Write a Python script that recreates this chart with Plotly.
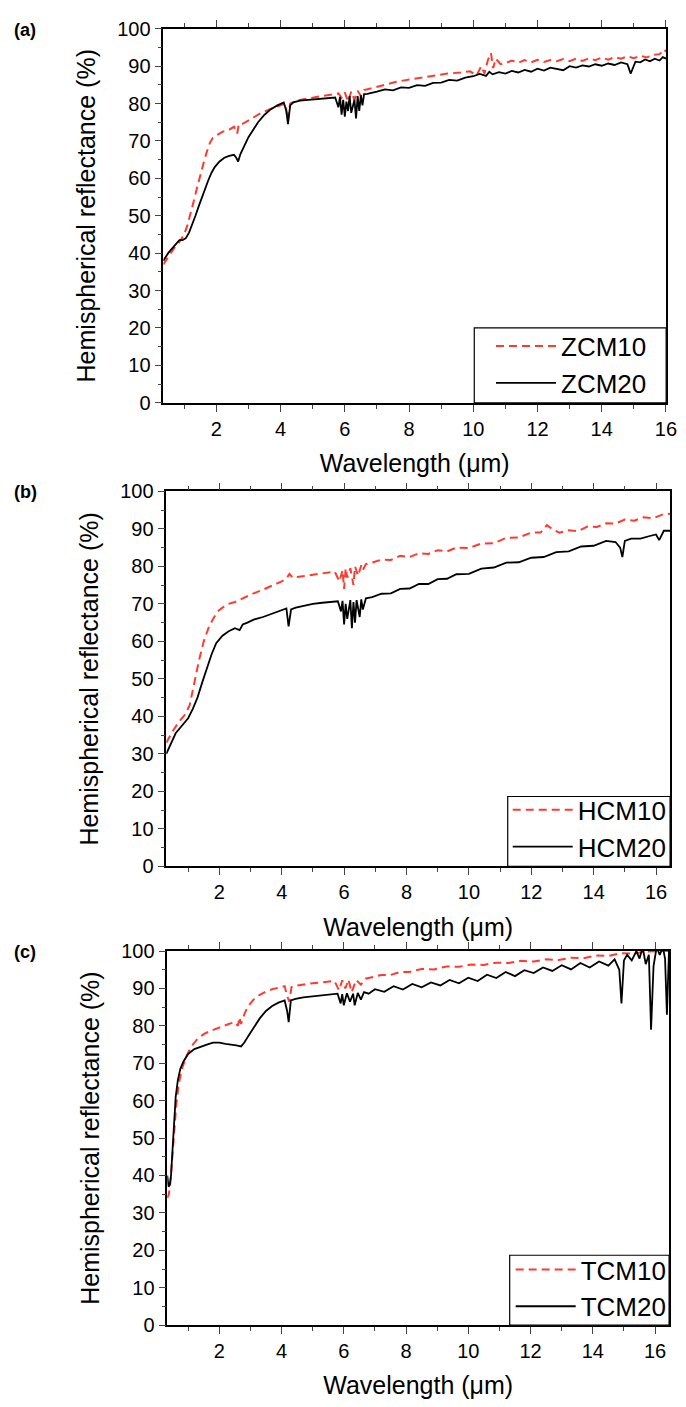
import plotly.graph_objects as go

# ---- panel (a) ----
zcm10_wl = [0.35, 0.5, 0.7, 0.85, 1.0, 1.1, 1.2, 1.3, 1.4, 1.5, 1.6, 1.7, 1.8, 1.9, 2.0, 2.2, 2.4, 2.55,
            2.65, 2.7, 2.8, 3.0, 3.2, 3.4, 3.6, 3.8, 4.0, 4.15, 4.22, 4.3, 4.5, 4.8, 5.0, 5.3, 5.6, 5.8,
            5.9, 6.0, 6.1, 6.2, 6.3, 6.4, 6.5, 6.6, 6.8, 7.0, 7.3, 7.6, 8.0, 8.4, 8.8, 9.2, 9.6, 9.9,
            10.1, 10.25, 10.35, 10.45, 10.55, 10.62, 10.7, 10.85, 11.0, 11.2, 11.4, 11.6, 11.8, 12.0,
            12.2, 12.4, 12.6, 12.8, 13.0, 13.2, 13.4, 13.6, 13.8, 14.0, 14.2, 14.4, 14.6, 14.8, 15.0,
            15.2, 15.4, 15.6, 15.8, 15.95, 16.0]
zcm10_r = [37, 39, 41.5, 43, 45, 47.5, 50.5, 54, 57.5, 61, 64, 67, 69.5, 71, 71.5, 72.5, 73, 73.8,
           72, 74.5, 74.5, 75.5, 76.5, 77.5, 78.2, 79, 79.5, 80, 75.5, 80, 80.8, 81.3, 81.6, 82, 82.4, 82.7,
           81.5, 83, 80.5, 83.2, 81, 83.4, 82, 83.6, 84, 84.5, 85.2, 85.8, 86.4, 87, 87.5, 88, 88.3, 88.6,
           87.5, 90, 88, 91.5, 93.5, 89.5, 92, 90.5, 90.8, 91.5, 90.9, 91.6, 91.0, 91.7,
           91.1, 91.6, 91.3, 91.9, 91.3, 92.0, 91.4, 92.1, 91.6, 92.3, 91.7, 92.4, 92.0, 92.6, 92.1,
           92.8, 92.3, 93.0, 93.2, 94.5, 93.8]

zcm20_wl = [0.35, 0.5, 0.7, 0.85, 0.95, 1.05, 1.15, 1.25, 1.35, 1.45, 1.55, 1.65, 1.75, 1.85, 1.95, 2.1,
            2.25, 2.4, 2.55, 2.62, 2.68, 2.75, 2.85, 3.0, 3.15, 3.3, 3.5, 3.7, 3.9, 4.1, 4.18, 4.23, 4.3,
            4.4, 4.6, 4.9, 5.2, 5.5, 5.7, 5.8, 5.85, 5.9, 5.95, 6.0, 6.05, 6.1, 6.15, 6.2, 6.3, 6.35, 6.4,
            6.45, 6.5, 6.55, 6.6, 6.7, 6.85, 7.0, 7.25, 7.5, 7.75, 8.0, 8.25, 8.5, 8.75, 9.0, 9.25, 9.5,
            9.75, 10.0, 10.2, 10.4, 10.5, 10.6, 10.8, 11.0, 11.2, 11.4, 11.6, 11.8, 12.0, 12.2, 12.4,
            12.6, 12.8, 13.0, 13.2, 13.4, 13.6, 13.8, 14.0, 14.2, 14.4, 14.6, 14.8, 14.9, 14.97, 15.05,
            15.2, 15.35, 15.5, 15.65, 15.8, 15.9, 16.0]
zcm20_r = [38, 40, 42, 43.5, 43.5, 44, 45.5, 47.5, 50, 52.5, 55, 57.5, 59.5, 61.5, 63, 64.5,
           65.5, 66, 66.3, 65.5, 64.5, 66.5, 68.5, 71, 73, 75, 77, 78.5, 79.5, 80.3, 78, 74.5, 79.5,
           80.3, 80.8, 81, 81.3, 81.6, 81.6, 79, 81.8, 77, 81, 76.5, 80.5, 78, 82, 77.5, 81, 76, 82,
           78, 82.2, 79.5, 82.5, 82.6, 83, 83.2, 83.8, 83.5, 84.3, 84.2, 84.9, 84.7, 85.5, 85.6, 86.3, 86.1,
           86.9, 87.3, 87.9, 87.4, 88.5, 87.8, 88.4, 88.0, 88.7, 88.3, 89.0, 88.5, 89.3, 88.8, 89.6,
           89.3, 88.9, 90.0, 89.6, 90.2, 89.9, 90.5, 90.1, 90.7, 90.3, 91.0, 90.5, 88.0, 89.5, 91.2,
           91.0, 91.8, 91.3, 92.0, 91.5, 92.4, 92.0]

# ---- panel (b) ----
hcm10_wl = [0.3, 0.5, 0.7, 0.9, 1.05, 1.2, 1.35, 1.5, 1.65, 1.8, 1.95, 2.1, 2.3, 2.5, 2.7, 2.9, 3.1,
            3.4, 3.7, 4.0, 4.15, 4.25, 4.35, 4.5, 4.8, 5.1, 5.4, 5.7, 5.85, 5.95, 6.0, 6.05, 6.1, 6.2,
            6.3, 6.35, 6.45, 6.55, 6.6, 6.7, 6.9, 7.2, 7.5, 7.8, 8.1, 8.4, 8.7, 9.0, 9.3, 9.6, 10.0,
            10.4, 10.8, 11.2, 11.6, 12.0, 12.3, 12.5, 12.7, 12.9, 13.2, 13.5, 13.8, 14.1, 14.4, 14.7,
            15.0, 15.3, 15.6, 15.9, 16.2, 16.45]
hcm10_r = [33, 36, 38.5, 40.5, 43, 49, 55, 60, 63.5, 66, 68, 69, 70, 70.5, 71.3, 72, 72.8,
           73.8, 74.8, 76, 76.8, 78, 77, 77.2, 77.6, 78, 78.3, 78.6, 76, 79, 74, 79.5, 77, 79.5,
           75, 80, 77.5, 80.3, 79, 80.6, 81, 81.8, 81.7, 82.8, 82.5, 83.5, 83.3, 84.3, 84.0, 85.0, 84.9,
           86.1, 86.2, 87.6, 87.7, 89.0, 89.0, 91, 89.8, 89, 89.6, 89.4, 90.6, 90.5, 91.5, 91.4,
           92.5, 92.2, 93.1, 92.8, 93.8, 94]

hcm20_wl = [0.3, 0.45, 0.6, 0.8, 1.0, 1.15, 1.3, 1.45, 1.6, 1.75, 1.9, 2.1, 2.3, 2.5, 2.65, 2.75, 2.9,
            3.1, 3.4, 3.7, 4.0, 4.15, 4.22, 4.3, 4.45, 4.7, 5.0, 5.3, 5.6, 5.8, 5.9, 5.95, 6.0, 6.05,
            6.1, 6.2, 6.25, 6.3, 6.35, 6.4, 6.5, 6.55, 6.6, 6.7, 6.9, 7.2, 7.5, 7.8, 8.1, 8.4, 8.7,
            9.0, 9.3, 9.6, 10.0, 10.4, 10.8, 11.2, 11.6, 12.0, 12.4, 12.8, 13.2, 13.6, 14.0, 14.4,
            14.7, 14.85, 14.92, 15.0, 15.2, 15.5, 15.8, 16.0, 16.1, 16.25, 16.45]
hcm20_r = [30, 33, 35.5, 37.5, 39.5, 42, 45, 49, 53, 56.5, 59.5, 61.5, 62.7, 63.5, 63, 64.5, 65,
           65.8, 66.5, 67.5, 68.5, 68.8, 64, 68.5, 69, 69.5, 70, 70.3, 70.5, 70.7, 68, 70.8, 64.5, 70,
           66, 71, 63.5, 70.5, 65, 71, 66.5, 71.2, 68.5, 71.5, 71.8, 72.7, 72.8, 74.0, 74.1, 75.3, 75.3,
           76.6, 76.7, 77.9, 78.0, 79.4, 79.7, 81.0, 81.1, 82.3, 82.5, 83.8, 84.0, 85.3, 85.5, 86.8,
           86.5, 85, 82.5, 86.8, 87.4, 87.4, 88.1, 88.5, 87, 89.5, 89.5]

# ---- panel (c) ----
tcm10_wl = [0.33, 0.38, 0.43, 0.48, 0.55, 0.62, 0.7, 0.8, 0.95, 1.1, 1.3, 1.5, 1.7, 1.9, 2.1, 2.3, 2.5,
            2.6, 2.65, 2.7, 2.78, 2.85, 2.95, 3.1, 3.3, 3.5, 3.7, 3.9, 4.1, 4.18, 4.25, 4.32, 4.5, 4.8,
            5.1, 5.4, 5.7, 5.85, 5.95, 6.05, 6.15, 6.25, 6.4, 6.55, 6.7, 6.9, 7.2, 7.5, 7.8, 8.1, 8.5,
            8.9, 9.3, 9.7, 10.1, 10.5, 10.9, 11.3, 11.7, 12.1, 12.5, 12.9, 13.3, 13.7, 14.1, 14.5,
            14.9, 15.3, 15.7, 16.1, 16.45]
tcm10_r = [34, 35, 38, 44, 52, 59, 64.5, 68.5, 72, 74.5, 76.5, 77.8, 78.6, 79.3, 80, 80.5, 81,
           80, 82.3, 80.5, 82.5, 84, 85.5, 87, 88.3, 89.2, 89.8, 90.2, 90.6, 88, 86.5, 90.4, 90.8, 91.2,
           91.5, 91.8, 92, 89.5, 92.2, 90, 92.4, 89, 92.3, 91, 92.6, 93, 93.6, 93.6, 94.4, 94.4, 95.2,
           95.1, 95.9, 95.8, 96.4, 96.3, 96.9, 96.8, 97.4, 97.2, 97.8, 97.6, 98.2, 98.1, 98.8, 98.7,
           99.4, 99.3, 99.9, 100, 100]

tcm20_wl = [0.33, 0.37, 0.41, 0.45, 0.5, 0.55, 0.6, 0.67, 0.75, 0.85, 1.0, 1.2, 1.4, 1.6, 1.8, 2.0, 2.2,
            2.4, 2.55, 2.7, 2.8, 2.95, 3.1, 3.3, 3.5, 3.7, 3.9, 4.1, 4.18, 4.23, 4.3, 4.45, 4.7, 5.0,
            5.3, 5.6, 5.8, 5.9, 5.95, 6.0, 6.1, 6.2, 6.3, 6.35, 6.45, 6.55, 6.65, 6.8, 7.0, 7.3, 7.6,
            7.9, 8.2, 8.5, 8.8, 9.1, 9.4, 9.7, 10.0, 10.3, 10.6, 10.9, 11.2, 11.5, 11.8, 12.1, 12.4,
            12.7, 13.0, 13.3, 13.6, 13.9, 14.2, 14.5, 14.7, 14.85, 14.92, 15.0, 15.1, 15.25, 15.4,
            15.5, 15.6, 15.7, 15.8, 15.87, 15.95, 16.05, 16.15, 16.25, 16.32, 16.38, 16.45]
tcm20_r = [40, 37, 37.5, 40, 47, 55, 61, 65.5, 68.5, 70.5, 72.5, 73.8, 74.5, 75, 75.5, 75.5, 75.2,
           75, 74.8, 74.5, 75.5, 77.5, 79.5, 82, 84, 85.3, 86.2, 86.8, 84, 81, 86.8, 87.2, 87.6, 87.9,
           88.2, 88.4, 88.6, 86, 88.5, 85.5, 88.7, 86.5, 88.6, 85.5, 88.8, 87, 89, 88.6, 89.8, 89.1, 90.6,
           89.7, 91.2, 90.3, 91.6, 90.8, 92.3, 91.4, 92.9, 92, 93.7, 92.8, 94.4, 93.3, 94.9, 94.1, 95.6,
           94.7, 96.2, 95.1, 96.8, 95.6, 97.2, 96.1, 97.8, 95, 86, 97.5, 99, 97.5, 100, 98,
           101, 96.5, 99, 79, 96, 101, 99, 101, 98, 83, 101]

panels = [
    ("(a)", "ZCM10", "ZCM20", zcm10_wl, zcm10_r, zcm20_wl, zcm20_r),
    ("(b)", "HCM10", "HCM20", hcm10_wl, hcm10_r, hcm20_wl, hcm20_r),
    ("(c)", "TCM10", "TCM20", tcm10_wl, tcm10_r, tcm20_wl, tcm20_r),
]

W, H = 686, 1407
# pixel boxes of the three plot areas: left, right, top, bottom
boxes = [(166, 677, 18, 398), (169, 681, 488, 869), (170, 680, 955, 1335)]
xranges = [[0.35, 16.005], [0.3, 16.45], [0.33, 16.45]]
# legend frames (left, top) and where the legend entries start (x, bottom)
legbox = [(482, 322), (516, 798), (518, 1264)]
legpos = [(499, 402), (516, 873), (519, 1340)]

FONT = "Liberation Sans, Arial, sans-serif"

fig = go.Figure()
for i, (lab, n1, n2, wl1, r1, wl2, r2) in enumerate(panels):
    sfx = "" if i == 0 else str(i + 1)
    leg = "legend" + sfx
    fig.add_trace(go.Scatter(x=wl1, y=r1, mode="lines", name=n1,
                             line=dict(color="#ff3b30", width=2, dash="8px,5px"),
                             xaxis="x" + sfx, yaxis="y" + sfx, legend=leg))
    fig.add_trace(go.Scatter(x=wl2, y=r2, mode="lines", name=n2,
                             line=dict(color="black", width=1.8),
                             xaxis="x" + sfx, yaxis="y" + sfx, legend=leg))

    l, r, t, b = boxes[i]
    xd = [l / W, r / W]
    yd = [1 - b / H, 1 - t / H]
    fig.layout["xaxis" + sfx] = dict(
        domain=xd, range=xranges[i], anchor="y" + sfx,
        tickmode="linear", tick0=0, dtick=2, ticks="outside", ticklen=7, tickwidth=1.2,
        minor=dict(tick0=0, dtick=1, ticks="outside", ticklen=4, tickwidth=1.2),
        showline=True, linecolor="black", linewidth=1.5, mirror="ticks",
        showgrid=False, zeroline=False, ticklabeloverflow="allow",
        tickfont=dict(size=20, color="black", family=FONT),
        title=dict(text="Wavelength (\u03bcm)", font=dict(size=25, color="black", family=FONT),
                   standoff=16),
    )
    fig.layout["yaxis" + sfx] = dict(
        domain=yd, range=[0, 100], anchor="x" + sfx,
        tickmode="linear", tick0=0, dtick=10, ticks="outside", ticklen=7, tickwidth=1.2,
        minor=dict(tick0=0, dtick=5, ticks="outside", ticklen=4, tickwidth=1.2),
        showline=True, linecolor="black", linewidth=1.5, mirror=True,
        showgrid=False, zeroline=False,
        tickfont=dict(size=20, color="black", family=FONT),
        title=dict(text="Hemispherical reflectance (%)",
                   font=dict(size=25, color="black", family=FONT), standoff=14),
    )
    lx, ly = legpos[i]
    fig.layout[leg] = dict(
        x=lx / W, y=1 - ly / H, xanchor="left", yanchor="bottom",
        bgcolor="rgba(0,0,0,0)", borderwidth=0,
        font=dict(size=26, color="black", family=FONT), itemwidth=60,
        tracegroupgap=0,
    )
    bx, by = legbox[i]
    fig.add_shape(type="rect", xref="paper", yref="paper",
                  x0=bx / W, x1=r / W, y0=1 - b / H, y1=1 - by / H,
                  line=dict(color="black", width=1.2), fillcolor="white", layer="above")
    fig.add_annotation(text="<b>" + lab + "</b>", xref="paper", yref="paper",
                       x=12 / W, y=1 - (t + 1) / H, xanchor="left", yanchor="middle",
                       showarrow=False, font=dict(size=18, color="black", family=FONT))

fig.update_layout(
    width=W, height=H,
    margin=dict(l=0, r=0, t=0, b=0),
    paper_bgcolor="white", plot_bgcolor="white",
    showlegend=True,
)

fig.write_html("out.html", config={"displayModeBar": False},
               post_script="document.body.style.margin='0';")
